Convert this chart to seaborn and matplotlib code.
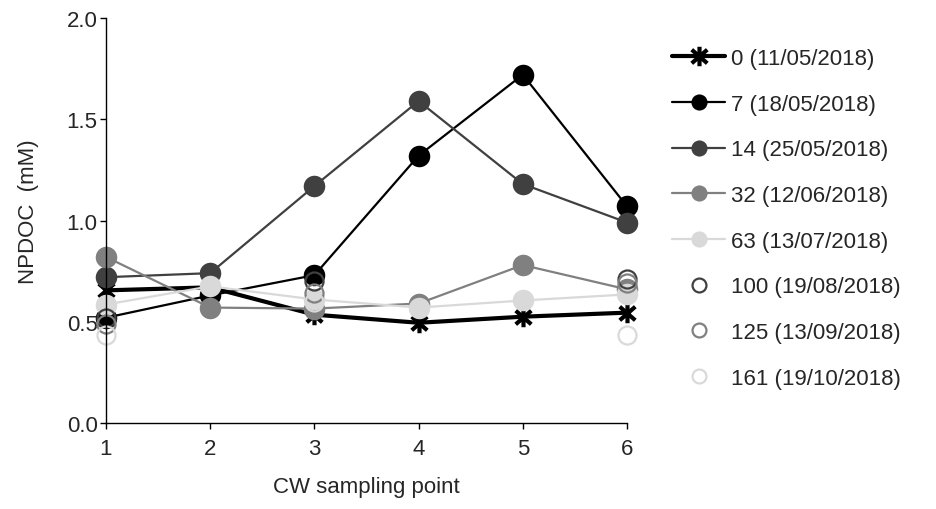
import numpy as np
import matplotlib
matplotlib.use("Agg")
import matplotlib.pyplot as plt
import matplotlib.path as mpath
from matplotlib.lines import Line2D
import seaborn as sns

sns.set_style("white")
plt.rcParams['font.family'] = ['Liberation Sans', 'DejaVu Sans']

points = [1, 2, 3, 4, 5, 6]
labels = ["0 (11/05/2018)", "7 (18/05/2018)", "14 (25/05/2018)", "32 (12/06/2018)",
          "63 (13/07/2018)", "100 (19/08/2018)", "125 (13/09/2018)", "161 (19/10/2018)"]
nan = np.nan
s0 = [0.655, 0.67, 0.535, 0.495, 0.525, 0.545]
s7 = [0.52, 0.63, 0.73, 1.32, 1.72, 1.07]
s14 = [0.72, 0.74, 1.17, 1.59, 1.18, 0.99]
s32 = [0.82, 0.57, 0.565, 0.59, 0.78, 0.66]
s63 = [0.585, 0.675, 0.61, 0.57, 0.605, 0.635]
s100 = [0.52, nan, 0.70, nan, nan, 0.71]
s125 = [0.49, nan, 0.64, nan, nan, 0.69]
s161 = [0.435, nan, 0.60, nan, nan, 0.435]

series = [s0, s7, s14, s32, s63, s100, s125, s161]
colors = ["#000000", "#000000", "#404040", "#808080", "#d9d9d9", "#404040", "#808080", "#d9d9d9"]

# asterisk marker (X plus vertical bar)
verts = [(0, -1), (0, 1), (-0.8, -0.7), (0.8, 0.7), (-0.8, 0.7), (0.8, -0.7)]
codes = [mpath.Path.MOVETO, mpath.Path.LINETO] * 3
asterisk = mpath.Path(verts, codes)

fig = plt.figure(figsize=(9.37, 5.10), dpi=100)
ax = fig.add_axes([106 / 937, 1 - 424 / 510, (627 - 106) / 937, (424 - 19) / 510])

handles = []
for i, (vals, col, lab) in enumerate(zip(series, colors, labels)):
    x = [p for p, v in zip(points, vals) if not np.isnan(v)]
    y = [v for v in vals if not np.isnan(v)]
    if i == 0:
        kw = dict(marker=asterisk, markersize=14, markeredgewidth=3, color=col,
                  linewidth=3, markerfacecolor=col, markeredgecolor=col)
    elif i < 5:
        kw = dict(marker="o", markersize=15.5, markeredgewidth=0, color=col,
                  linewidth=1.6, markerfacecolor=col, markeredgecolor=col)
    else:
        kw = dict(marker="o", markersize=13, markeredgewidth=1.6, color=col,
                  linestyle="none", markerfacecolor="none", markeredgecolor=col)
    sns.lineplot(x=x, y=y, ax=ax, legend=False, zorder=3 + i, **kw)
    hkw = dict(kw)
    if i < 5:
        hkw["markersize"] = kw["markersize"] * (0.75 if i else 1.0)
    else:
        hkw["markersize"] = 10
    handles.append(Line2D([], [], label=lab, **hkw))

ax.set_xlim(1, 6)
ax.set_ylim(0, 2.0)
ax.set_xticks(points)
ax.set_yticks([0, 0.5, 1.0, 1.5, 2.0])
ax.set_yticklabels(["0.0", "0.5", "1.0", "1.5", "2.0"])
for side in ["top", "right"]:
    ax.spines[side].set_visible(False)
for side in ["left", "bottom"]:
    ax.spines[side].set_color("black")
    ax.spines[side].set_linewidth(1.0)
ax.tick_params(axis="both", direction="out", length=4, width=1, color="black",
               labelsize=16, bottom=True, left=True)
ax.tick_params(axis="y", pad=2)
ax.tick_params(axis="x", pad=7)
ax.set_xlabel("CW sampling point", fontsize=16, labelpad=12)
ax.set_ylabel("NPDOC  (mM)", fontsize=16, labelpad=20, y=0.523)
for sp in ax.spines.values():
    sp.set_zorder(20)
for ln in ax.lines:
    ln.set_clip_on(False)

fig.legend(handles=handles, loc="upper left", bbox_to_anchor=(672 / 937, 1 - 49 / 510),
           frameon=False, fontsize=16, handlelength=2.4, handletextpad=0.25,
           labelspacing=1.11, borderpad=0, borderaxespad=0)

fig.savefig("out.png", dpi=100, facecolor="white")
